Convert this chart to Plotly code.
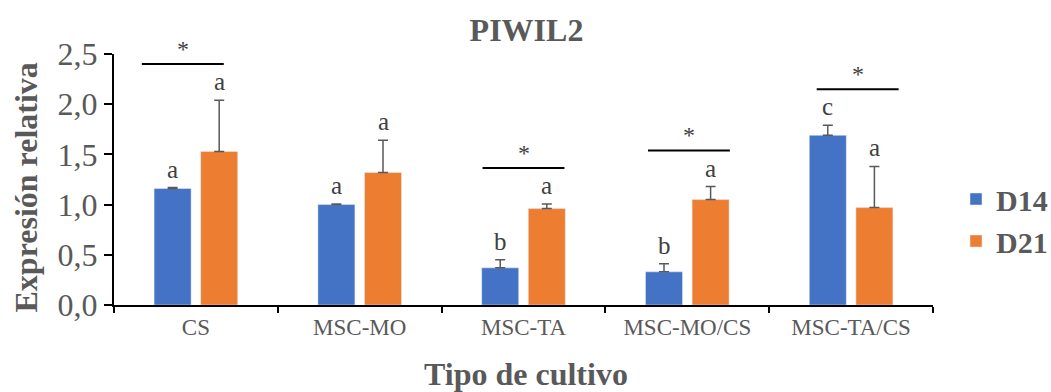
import plotly.graph_objects as go

# Culture types and relative PIWIL2 expression (mean and SD) at day 14 and day 21
categories = ["CS", "MSC-MO", "MSC-TA", "MSC-MO/CS", "MSC-TA/CS"]
d14_mean = [1.16, 1.00, 0.37, 0.33, 1.69]
d14_sd = [0.01, 0.005, 0.08, 0.08, 0.10]
d21_mean = [1.53, 1.32, 0.96, 1.05, 0.97]
d21_sd = [0.51, 0.32, 0.045, 0.13, 0.41]
d14_letters = ["a", "a", "b", "b", "c"]
d21_letters = ["a", "a", "a", "a", "a"]
significant = [True, False, True, True, True]
ytick_vals = [0.0, 0.5, 1.0, 1.5, 2.0, 2.5]

W, H = 1051, 392
L, R, T, B = 114, 118, 54, 87
PW, PH = W - L - R, H - T - B
BARGAP = 0.431
SERIF = "Times New Roman, Liberation Serif, serif"
GREY = "#595959"
DARK = "#404040"
BLUE = "#4472C4"
ORANGE = "#ED7D31"
# horizontal nudge of each significance bracket, in category units
BRACKET_SHIFT = [-0.08, 0.0, 0.0, 0.01, 0.04]


def px_x(px):
    return (px - L) / PW


def px_y(py):
    return (H - B - py) / PH


fig = go.Figure()
for name, mean, sd, color in [("D14", d14_mean, d14_sd, BLUE),
                              ("D21", d21_mean, d21_sd, ORANGE)]:
    fig.add_trace(go.Bar(
        x=categories, y=mean, name=name, marker_color=color,
        error_y=dict(type="data", symmetric=False, array=sd,
                     arrayminus=[0] * len(sd), color=GREY,
                     thickness=1.5, width=5),
    ))

annotations = []
half = (1 - BARGAP) / 4
for i in range(len(categories)):
    tops = []
    for mean, sd, letters, sign in [(d14_mean, d14_sd, d14_letters, -1),
                                    (d21_mean, d21_sd, d21_letters, 1)]:
        top = mean[i] + sd[i]
        tops.append(top)
        annotations.append(dict(
            x=i + sign * half, y=top, xref="x", yref="y", text=letters[i],
            showarrow=False, yanchor="bottom", yshift=3,
            font=dict(family=SERIF, size=25, color=DARK)))
    if significant[i]:
        level = max(tops) + 0.36
        c = i + BRACKET_SHIFT[i]
        fig.add_shape(type="line", xref="x", yref="y",
                      x0=c - 0.25, x1=c + 0.25, y0=level, y1=level,
                      line=dict(color="black", width=2))
        annotations.append(dict(
            x=c, y=level, xref="x", yref="y", text="*", showarrow=False,
            yanchor="bottom", yshift=0,
            font=dict(family=SERIF, size=24, color=DARK)))

# Axis titles
annotations.append(dict(
    x=px_x(25), y=px_y(187.5), xref="paper", yref="paper",
    text="Expresión relativa", textangle=-90, showarrow=False,
    xanchor="center", yanchor="middle",
    font=dict(family=SERIF, size=32, color=GREY, weight="bold")))
annotations.append(dict(
    x=px_x(526), y=px_y(374), xref="paper", yref="paper",
    text="Tipo de cultivo", showarrow=False,
    xanchor="center", yanchor="middle",
    font=dict(family=SERIF, size=32, color=GREY, weight="bold")))

fig.update_layout(
    width=W, height=H, autosize=False,
    margin=dict(l=L, r=R, t=T, b=B, autoexpand=False),
    paper_bgcolor="white", plot_bgcolor="white",
    barmode="group", bargap=BARGAP, bargroupgap=0.206,
    separators=", ",
    title=dict(text="PIWIL2", x=526.5 / W, xanchor="center",
               y=1 - 29.5 / H, yanchor="middle", yref="container",
               font=dict(family=SERIF, size=32, color=GREY, weight="bold")),
    legend=dict(x=px_x(956), xanchor="left", y=px_y(220), yanchor="middle",
                bgcolor="rgba(0,0,0,0)",
                font=dict(family=SERIF, size=30, color=GREY, weight="bold")),
    annotations=annotations,
    xaxis=dict(showline=True, linecolor="black", linewidth=2,
               ticks="outside", ticklen=6, tickwidth=2, tickcolor="black",
               tickson="boundaries", showgrid=False,
               tickfont=dict(family=SERIF, size=23, color=GREY)),
    yaxis=dict(range=[0, 2.5], tickvals=ytick_vals, tickformat=".1f",
               showline=True, linecolor="black", linewidth=2,
               ticks="outside", ticklen=8, tickwidth=2, tickcolor="black",
               showgrid=False, zeroline=False,
               tickfont=dict(family=SERIF, size=32, color=GREY)),
)

fig.write_html("out.html")
